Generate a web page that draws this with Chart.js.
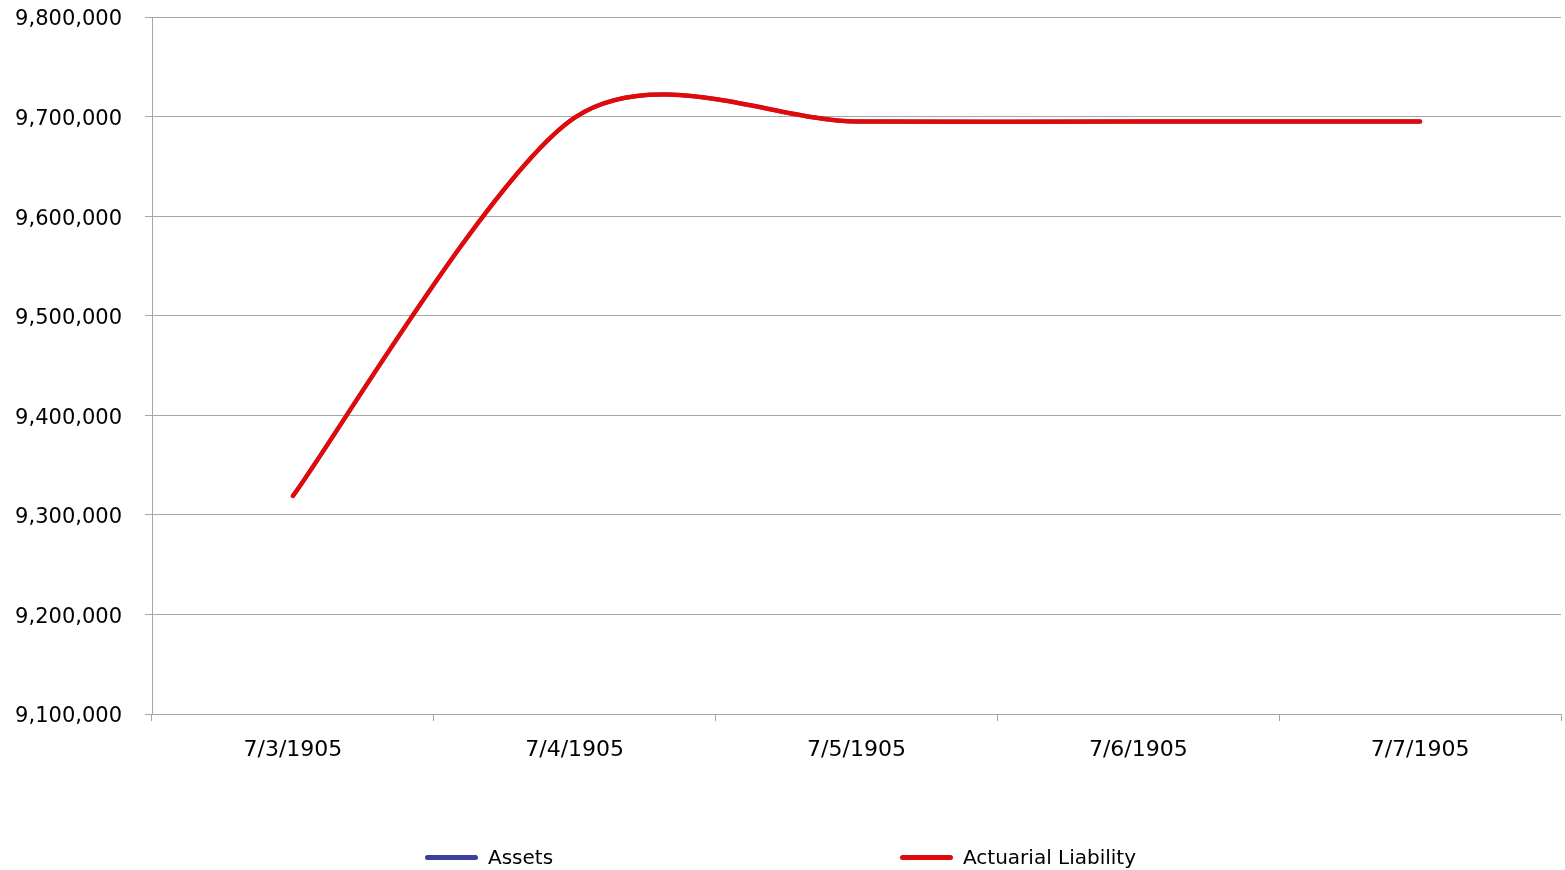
<!DOCTYPE html>
<html>
<head>
<meta charset="utf-8">
<script src="https://cdn.jsdelivr.net/npm/chart.js@4/dist/chart.umd.min.js"></script>
<style>
  html, body { margin: 0; padding: 0; background: #fff; }
  #wrap { position: relative; width: 1565px; height: 870px; }
  canvas { position: absolute; left: 0; top: 0; }
  .leg { position: absolute; top: 844px; height: 26px; display: flex; align-items: center;
         font-family: "DejaVu Sans", sans-serif; font-size: 20px; color: #000; }
  .leg .ln { width: 53px; height: 5px; border-radius: 3px; margin-right: 10px; }
</style>
</head>
<body>
<div id="wrap">
  <canvas id="c" width="1565" height="870"></canvas>
  <div class="leg" style="left:425px"><span class="ln" style="background:#3B3F9E"></span><span id="l0"></span></div>
  <div class="leg" style="left:900px"><span class="ln" style="background:#E00A0A"></span><span id="l1"></span></div>
</div>
<script>
const categories = ['7/3/1905', '7/4/1905', '7/5/1905', '7/6/1905', '7/7/1905'];
const seriesNames = ['Assets', 'Actuarial Liability'];
const assets = [9319000, 9699000, 9695000, 9695000, 9695000];
const actuarialLiability = [9319000, 9699000, 9695000, 9695000, 9695000];
const yMin = 9100000;
const yMax = 9800000;
const yStep = 100000;

document.getElementById('l0').textContent = seriesNames[0];
document.getElementById('l1').textContent = seriesNames[1];

const FONT = '"DejaVu Sans", sans-serif';

// Excel-like smoothing: uniform Catmull-Rom style control points computed
// from the points Chart.js has already placed on its scales.
const SMOOTH_K = 0.144;
const excelSmooth = {
  id: 'excelSmooth',
  afterDatasetsUpdate(chart) {
    chart.data.datasets.forEach((ds, di) => {
      const meta = chart.getDatasetMeta(di);
      const line = meta.dataset;
      if (!line) return;
      line.updateControlPoints(chart.chartArea, 'x');
      const pts = meta.data;
      const n = pts.length;
      for (let i = 0; i < n; i++) {
        const p = pts[i];
        const prev = pts[Math.max(0, i - 1)];
        const next = pts[Math.min(n - 1, i + 1)];
        const dx = next.x - prev.x, dy = next.y - prev.y;
        p.cp1x = p.x - SMOOTH_K * dx;
        p.cp1y = p.y - SMOOTH_K * dy;
        p.cp2x = p.x + SMOOTH_K * dx;
        p.cp2y = p.y + SMOOTH_K * dy;
      }
    });
  }
};

new Chart(document.getElementById('c'), {
  type: 'line',
  data: {
    labels: categories,
    datasets: [
      {
        label: seriesNames[1],
        data: actuarialLiability,
        borderColor: '#E00A0A',
        borderWidth: 4.5,
        borderCapStyle: 'round',
        borderJoinStyle: 'round',
        pointRadius: 0,
        tension: 0.3,
        fill: false,
        order: 0
      },
      {
        label: seriesNames[0],
        data: assets,
        borderColor: '#3B3F9E',
        borderWidth: 4,
        borderCapStyle: 'round',
        pointRadius: 0,
        tension: 0.3,
        fill: false,
        order: 1
      }
    ]
  },
  plugins: [excelSmooth],
  options: {
    responsive: false,
    animation: false,
    devicePixelRatio: 1,
    layout: { padding: { left: 0, right: 4, top: 17, bottom: 96 } },
    plugins: {
      legend: { display: false },
      title: { display: false },
      tooltip: { enabled: false }
    },
    scales: {
      x: {
        offset: true,
        grid: {
          offset: true,
          drawOnChartArea: false,
          drawTicks: true,
          tickLength: 7,
          color: '#A6A6A6',
          lineWidth: 1
        },
        border: { display: true, color: '#A6A6A6', width: 1 },
        ticks: {
          color: '#000',
          font: { family: FONT, size: 22 },
          padding: 16,
          maxRotation: 0
        },
        afterFit: s => { s.height = 60; s.paddingTop = 0; s.paddingBottom = 0; }
      },
      y: {
        min: yMin,
        max: yMax,
        grid: {
          color: '#A6A6A6',
          lineWidth: 1,
          drawTicks: true,
          tickLength: 7
        },
        border: { display: true, color: '#A6A6A6', width: 1 },
        ticks: {
          stepSize: yStep,
          color: '#000',
          font: { family: FONT, size: 21 },
          padding: 23,
          labelOffset: 3,
          callback: v => v.toLocaleString('en-US')
        },
        afterFit: s => { s.width = 152; s.paddingTop = 0; s.paddingBottom = 0; }
      }
    }
  }
});
</script>
</body>
</html>
